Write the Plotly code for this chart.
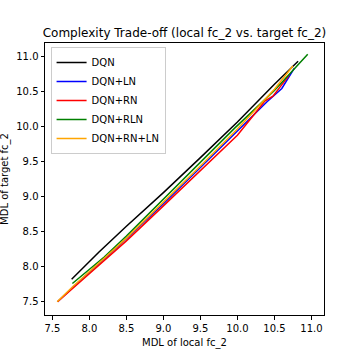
import plotly.graph_objects as go

names = ["DQN", "DQN+LN", "DQN+RN", "DQN+RLN", "DQN+RN+LN"]
colors = ["black", "blue", "red", "green", "orange"]

dqn_x = [7.76, 8.13, 8.5, 9.0, 9.5, 10.0, 10.5, 10.82]
dqn_y = [7.82, 8.21, 8.58, 9.06, 9.56, 10.07, 10.61, 10.94]

ln_x = [7.57, 7.77, 8.5, 9.0, 9.5, 10.0, 10.4, 10.6, 10.77]
ln_y = [7.50, 7.70, 8.40, 8.90, 9.42, 9.94, 10.36, 10.55, 10.84]

rn_x = [7.57, 7.77, 8.5, 9.0, 9.5, 10.0, 10.28, 10.37, 10.48, 10.70]
rn_y = [7.50, 7.69, 8.37, 8.87, 9.37, 9.88, 10.25, 10.37, 10.44, 10.74]

rln_x = [7.77, 8.2, 8.5, 9.02, 9.5, 9.97, 10.5, 10.95]
rln_y = [7.76, 8.14, 8.44, 8.99, 9.49, 9.99, 10.52, 11.04]

rnln_x = [7.565, 7.77, 8.5, 9.0, 9.5, 10.0, 10.5, 10.75]
rnln_y = [7.50, 7.71, 8.41, 8.92, 9.44, 9.97, 10.54, 10.87]

xs = [dqn_x, ln_x, rn_x, rln_x, rnln_x]
ys = [dqn_y, ln_y, rn_y, rln_y, rnln_y]

tick_vals = [7.5, 8.0, 8.5, 9.0, 9.5, 10.0, 10.5, 11.0]
tick_text = ["7.5", "8.0", "8.5", "9.0", "9.5", "10.0", "10.5", "11.0"]

fig = go.Figure()
for n, c, x, y in zip(names, colors, xs, ys):
    fig.add_trace(go.Scatter(x=x, y=y, mode="lines", name=n,
                             line=dict(color=c, width=1.5)))

axis_common = dict(showgrid=False, zeroline=False, showline=True, linecolor="black",
                   linewidth=1, mirror=True, ticks="outside", ticklen=3.5,
                   tickcolor="black", tickfont=dict(size=10, color="black"),
                   tickvals=tick_vals, ticktext=tick_text, automargin=False)

fig.update_layout(
    width=360, height=360,
    margin=dict(l=45, r=36, t=43, b=45),
    paper_bgcolor="white", plot_bgcolor="white",
    font=dict(family="DejaVu Sans", color="black", size=10),
    title=dict(text="Complexity Trade-off (local fc_2 vs. target fc_2)",
               x=0.5, xref="paper", xanchor="center", y=1 - 33 / 360, yanchor="middle",
               font=dict(size=12)),
    xaxis=dict(range=[7.40, 11.17], **axis_common),
    yaxis=dict(range=[7.31, 11.2], **axis_common),
    legend=dict(x=0.02, y=0.985, xanchor="left", yanchor="top",
                bordercolor="#cccccc", borderwidth=1, bgcolor="white",
                font=dict(size=10), tracegroupgap=0, itemwidth=30),
    showlegend=True,
    annotations=[
        dict(text="MDL of local fc_2", xref="paper", yref="paper",
             x=0.5, y=-0.074, xanchor="center", yanchor="top", showarrow=False,
             font=dict(size=10)),
        dict(text="MDL of target fc_2", xref="paper", yref="paper",
             x=-0.115, y=0.5, xanchor="right", yanchor="middle", showarrow=False,
             textangle=-90, font=dict(size=10)),
    ],
)

fig.write_html("out.html", config={"displayModeBar": False},
               post_script="document.body.style.margin='0';document.body.style.overflow='hidden';")
